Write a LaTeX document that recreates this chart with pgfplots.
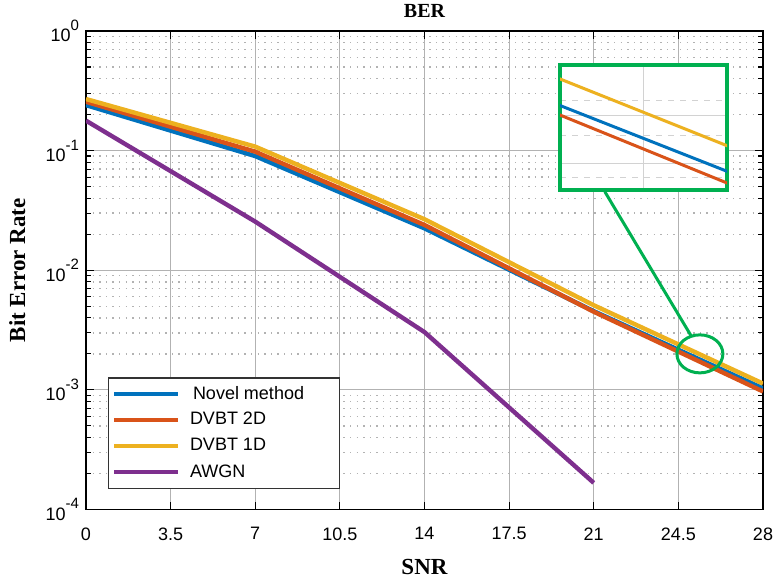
\documentclass[border=0pt]{standalone}
\usepackage{fontspec}
\setmainfont{Liberation Sans}
\newfontfamily\serifb{Liberation Serif}
\usepackage{pgfplots}
\pgfplotsset{compat=1.18}
\usepackage{pgfplotstable}

\definecolor{mblue}{rgb}{0,0.447,0.741}
\definecolor{morange}{rgb}{0.850,0.325,0.098}
\definecolor{myellow}{rgb}{0.929,0.694,0.125}
\definecolor{mpurple}{rgb}{0.494,0.184,0.556}
\definecolor{mgreen}{RGB}{0,176,80}

\pgfplotstableread{
snr ber
0 0.240
7 0.090
14 0.0224
21 0.00455
28 0.00103
}\novel
\pgfplotstableread{
snr ber
0 0.256
7 0.098
14 0.0239
21 0.0045
28 0.00097
}\dvbttwo
\pgfplotstableread{
snr ber
0 0.270
7 0.108
14 0.0267
21 0.0051
28 0.00113
}\dvbtone
\pgfplotstableread{
snr ber
0 0.178
7 0.0255
14 0.00304
21 0.000167
}\awgn

\newcommand{\pe}[1]{10\raisebox{5.6pt}{\fontsize{7.5pt}{8pt}\selectfont #1}}

\begin{document}
\begin{tikzpicture}
\useasboundingbox (-43pt,-35.25pt) rectangle (348pt,254.75pt);
\begin{axis}[
  name=main, at={(0,0)}, anchor=south west,
  scale only axis, width=338.5pt, height=239.25pt,
  ymode=log, xmin=0, xmax=28, ymin=1e-4, ymax=1,
  /pgf/number format/assume math mode=true,
  xtick={0,3.5,7,10.5,14,17.5,21,24.5,28},
  xticklabels={0,3.5,7,10.5,14,17.5,21,24.5,28},
  minor x tick num=0,
  ytick={1e-4,1e-3,1e-2,1e-1,1},
  yticklabels={\pe{-4},\pe{-3},\pe{-2},\pe{-1},\pe{0}},
  minor ytick={2e-4,3e-4,4e-4,5e-4,6e-4,7e-4,8e-4,9e-4,
               2e-3,3e-3,4e-3,5e-3,6e-3,7e-3,8e-3,9e-3,
               2e-2,3e-2,4e-2,5e-2,6e-2,7e-2,8e-2,9e-2,
               2e-1,3e-1,4e-1,5e-1,6e-1,7e-1,8e-1,9e-1},
  tick label style={font=\fontsize{9pt}{10pt}\selectfont},
  xticklabel style={yshift=-5.5pt},
  xmajorgrids=true, ymajorgrids=true, yminorgrids=true, xminorgrids=false,
  major grid style={gray!60, line width=0.5pt},
  minor grid style={gray!60, line width=0.7pt, dash pattern=on 0.7pt off 2.6pt},
  tick align=inside,
  tick style={black, line width=0.6pt},
  major tick length=4pt, minor tick length=2.5pt,
  axis line style={black, line width=0.9pt},
  every axis title shift=0pt,
  title={BER},
  title style={at={(axis description cs:0.5,1.0272)}, anchor=base, yshift=0pt,
     font=\serifb\bfseries\fontsize{10pt}{12pt}\selectfont},
  xlabel={SNR},
  xlabel style={at={(axis description cs:0.5,-0.1348)}, anchor=base,
     font=\serifb\bfseries\fontsize{11.5pt}{13pt}\selectfont},
  ylabel={Bit Error Rate},
  ylabel style={at={(axis description cs:-0.09,0.5)}, anchor=base,
     font=\serifb\bfseries\fontsize{11.5pt}{13pt}\selectfont},
  legend style={at={(axis description cs:0.0325,0.043)}, anchor=south west,
     draw=black!80, line width=0.6pt, fill=white,
     font=\fontsize{9pt}{10pt}\selectfont,
     inner xsep=1.8pt, inner ysep=1.5pt, row sep=0pt,
     nodes={inner sep=0pt, minimum height=13.05pt},
     /tikz/every odd column/.append style={column sep=5pt}},
  legend cell align=left,
  legend image code/.code={\draw[#1, line width=2.2pt] (0pt,0pt) -- (31.7pt,0pt);},
]
\addplot[mblue, line width=2.2pt] table[x=snr,y=ber]{\novel};
\addlegendentry{\hspace*{1.5pt}Novel method\hspace*{16pt}}
\addplot[morange, line width=2.2pt] table[x=snr,y=ber]{\dvbttwo};
\addlegendentry{DVBT 2D}
\addplot[myellow, line width=2.2pt] table[x=snr,y=ber]{\dvbtone};
\addlegendentry{DVBT 1D}
\addplot[mpurple, line width=2.2pt] table[x=snr,y=ber]{\awgn};
\addlegendentry{AWGN}
\draw[mgreen, line width=1.5pt] (axis cs:25.39,0.0020) ellipse [x radius=11.5pt, y radius=9.5pt];
\draw[mgreen, line width=1.5pt] (axis cs:25.05,0.00278) -- (axis cs:21.46,0.0453);
\end{axis}
\begin{axis}[
  at={(237pt,159.75pt)}, anchor=south west,
  scale only axis, width=83.5pt, height=62.5pt,
  ymode=log, xmin=24.7, xmax=25.9, ymin=0.001496, ymax=0.002427,
  xtick={25.3}, ytick={0.00166,0.002},
  minor ytick={0.00157,0.00185,0.00212},
  minor x tick num=0,
  xticklabels={}, yticklabels={},
  xmajorgrids=true, ymajorgrids=true, yminorgrids=true,
  major grid style={gray!35, line width=0.5pt},
  minor grid style={gray!35, line width=0.4pt, dashed},
  major tick length=0pt, minor tick length=0pt,
  axis line style={mgreen, line width=1.8pt},
  axis background/.style={fill=white},
]
\addplot[mblue, line width=1.5pt] table[x=snr,y=ber]{\novel};
\addplot[morange, line width=1.5pt] table[x=snr,y=ber]{\dvbttwo};
\addplot[myellow, line width=1.5pt] table[x=snr,y=ber]{\dvbtone};
\end{axis}
\end{tikzpicture}
\end{document}
